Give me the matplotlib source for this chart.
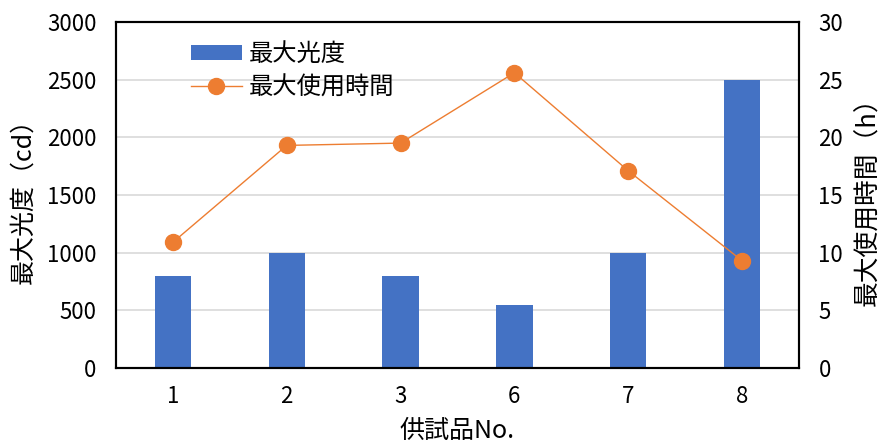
import matplotlib
matplotlib.use("Agg")
import matplotlib.pyplot as plt
import numpy as np

plt.rcParams['font.family'] = ['Noto Sans CJK JP', 'DejaVu Sans']

samples = ["1", "2", "3", "6", "7", "8"]
max_luminous = [800, 1000, 800, 550, 1000, 2500]      # cd
max_hours = [10.9, 19.3, 19.5, 25.6, 17.1, 9.3]       # h

bar_color = "#4472C4"
line_color = "#ED7D31"

fig = plt.figure(figsize=(8.8, 4.43), dpi=100)
ax = fig.add_axes([116/880, 1-368/443, (799-116)/880, (368-22)/443])
ax2 = ax.twinx()

x = np.arange(len(samples))
ax.bar(x, max_luminous, width=0.32, color=bar_color, label="最大光度", zorder=2)
ax2.plot(x, max_hours, color=line_color, lw=1, marker="o", markersize=11.5,
         label="最大使用時間", zorder=3)

ax.set_xlim(-0.5, len(samples) - 0.5)
ax.set_ylim(0, 3000)
ax.set_yticks(np.arange(0, 3001, 500))
ax2.set_ylim(0, 30)
ax2.set_yticks(np.arange(0, 31, 5))
ax.set_xticks(x)
ax.set_xticklabels(samples)

ax.grid(axis="y", color="#d9d9d9", lw=1.2, zorder=0)
ax.set_axisbelow(True)

for a in (ax, ax2):
    for s in a.spines.values():
        s.set_color("black")
        s.set_linewidth(1.5)
    a.tick_params(length=0, labelsize=16, pad=14)
ax.tick_params(axis="x", pad=12)

ax.set_xlabel("供試品No.", fontsize=18)
ax.xaxis.set_label_coords(0.5, -0.145)
ax.set_ylabel("最大光度（cd）", fontsize=18)
ax.yaxis.set_label_coords(-0.117, 0.5)
ax2.set_ylabel("最大使用時間（h）", fontsize=18.5)
ax2.yaxis.set_label_coords(1.083, 0.5)

h1, l1 = ax.get_legend_handles_labels()
h2, l2 = ax2.get_legend_handles_labels()
ax.legend(h1 + h2, l1 + l2, loc="upper left", bbox_to_anchor=(0.0775, 1.008),
          frameon=False, fontsize=17.5, handlelength=2.1, handleheight=0.55,
          handletextpad=0.3, labelspacing=0.3)

fig.savefig("out.png", dpi=100)
